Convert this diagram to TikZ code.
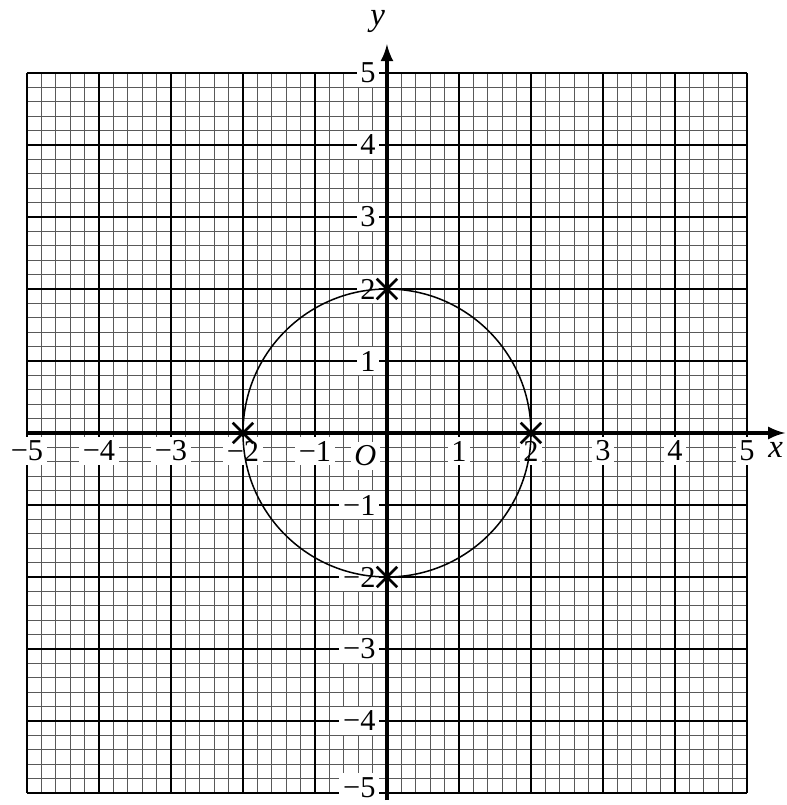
\documentclass[tikz,border=0pt]{standalone}
\usepackage{fontspec}
\setmainfont{Liberation Serif}
\usetikzlibrary{shapes.misc}
\tikzset{
  numlabel/.style={fill=white,inner sep=1.5pt,font=\fontsize{12}{14}\selectfont},
  crossmark/.style={cross out,draw,line width=1.1pt,minimum size=7pt,inner sep=0pt}
}
\begin{document}
\begin{tikzpicture}
    \useasboundingbox (-5.375,-5.167) rectangle (5.556,6.014);

    % graph paper
    \draw[black!65,line width=0.4pt] (-5,-5) grid[step=0.2] (5,5);
    \draw[black,line width=0.7pt] (-5,-5) grid[step=1] (5,5);

    \coordinate (xstart) at (-5,0);
    \coordinate (xend) at (5.53,0);
    \coordinate (ystart) at (0,-5.1);
    \coordinate (yend) at (0,5.4);

    \foreach \i/\t in {-5/−5,-4/−4,-3/−3,-2/−2,-1/−1,1/1,2/2,3/3,4/4,5/5}
        \node[numlabel] (xl\i) at (\i,-0.25) {\t};
    \foreach \i/\t in {-4/−4,-3/−3,-2/−2,-1/−1,1/1,2/2,3/3,4/4,5/5}
        \node[numlabel,anchor=east] (yl\i) at (-0.1,\i) {\t};
    \node[numlabel,anchor=east] (yl-5) at (-0.1,-4.92) {−5};
    \node[numlabel] (origin) at (-0.3,-0.32) {\textit{O}};

    \draw[line width=1.3pt,-latex] (xstart) -- (xend);
    \draw[line width=1.3pt,-latex] (ystart) -- (yend);
    \node[font=\fontsize{13}{15}\selectfont\itshape] (xlab) at (5.4,-0.24) {x};
    \node[font=\fontsize{13}{15}\selectfont\itshape] (ylab) at (-0.13,5.72) {y};

    \node (centre) at (0,0) {};
    \draw[line width=0.6pt] (0,0) circle (2);

    \node[crossmark] (pright) at (2,0) {};
    \node[crossmark] (pleft) at (-2,0) {};
    \node[crossmark] (ptop) at (0,2) {};
    \node[crossmark] (pbottom) at (0,-2) {};
\end{tikzpicture}
\end{document}
